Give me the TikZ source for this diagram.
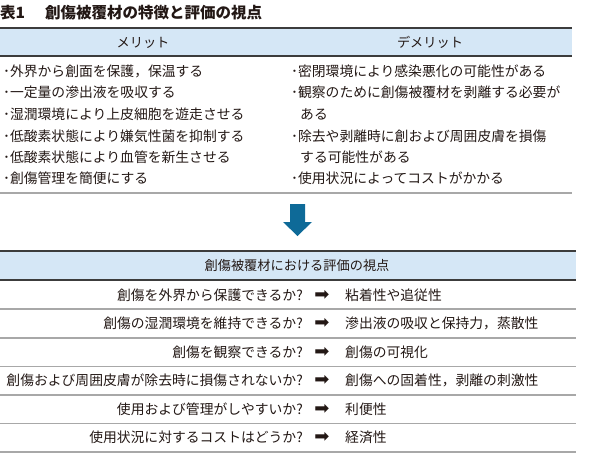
\documentclass[tikz,border=0pt]{standalone}
\usepackage{fontspec}
\newfontfamily\jp{Noto Sans CJK JP}
\newfontfamily\sym{DejaVu Sans}
\definecolor{bandblue}{HTML}{D5E7F6}
\definecolor{arrowblue}{HTML}{0E6A98}
\definecolor{linedark}{HTML}{3C3C3C}
\definecolor{linegray}{HTML}{A8A8A8}
\definecolor{txt}{HTML}{231815}
\tikzset{
  band/.style={fill=bandblue,draw=none},
  darkline/.style={draw=linedark,line width=1.6pt},
  grayline/.style={draw=linegray,line width=1.3pt},
  body/.style={inner sep=0pt,text=txt,font=\jp\fontsize{13.8}{16}\selectfont},
  item/.style={body,anchor=west},
  head/.style={inner sep=0pt,text=txt,font=\jp\fontsize{13.2}{16}\selectfont},
  titlestyle/.style={inner sep=0pt,anchor=west,text=txt,font=\jp\bfseries\fontsize{15.5}{18}\selectfont},
  arr/.style={inner sep=0pt,text=txt,font=\sym\fontsize{18}{20}\selectfont}
}
\begin{document}
\begin{tikzpicture}[x=1pt,y=-1pt]
\useasboundingbox (0,0) rectangle (594,458);
% title
\node[titlestyle] (t1) at (0,13) {表1};
\node[titlestyle] (t2) at (45,13) {創傷被覆材の特徴と評価の視点};
% table 1 header
\fill[band] (0,28) rectangle (572,56);
\draw[darkline] (0,28) -- (572,28);
\draw[darkline] (0,56) -- (572,56);
\node[head] (hm) at (143,42.5) {メリット};
\node[head] (hd) at (430,42.5) {デメリット};
% left items
\node[item] (l1) at (3,71) {･外界から創面を保護，保温する};
\node[item] (l2) at (3,92.5) {･一定量の滲出液を吸収する};
\node[item] (l3) at (3,114.5) {･湿潤環境により上皮細胞を遊走させる};
\node[item] (l4) at (3,136) {･低酸素状態により嫌気性菌を抑制する};
\node[item] (l5) at (3,157) {･低酸素状態により血管を新生させる};
\node[item] (l6) at (3,178.5) {･創傷管理を簡便にする};
% right items
\node[item] (r1) at (291,71) {･密閉環境により感染悪化の可能性がある};
\node[item] (r2) at (291,92.5) {･観察のために創傷被覆材を剥離する必要が};
\node[item] (r2b) at (300,114.5) {ある};
\node[item] (r3) at (291,136) {･除去や剥離時に創および周囲皮膚を損傷};
\node[item] (r3b) at (300,157) {する可能性がある};
\node[item] (r4) at (291,178.5) {･使用状況によってコストがかかる};
\draw[grayline] (0,193) -- (572,193);
% blue arrow
\fill[arrowblue] (290,204) -- (305,204) -- (305,222) -- (312,222) -- (297.5,236)
  -- (283,222) -- (290,222) -- cycle;
% table 2 header
\fill[band] (0,251) rectangle (576,280);
\draw[darkline] (0,251) -- (576,251);
\draw[darkline] (0,280) -- (576,280);
\node[head] (h2) at (297,266) {創傷被覆材における評価の視点};
% rows
\foreach \y in {309,338,366.5,395,423.5,452} {\draw[grayline] (0,\y) -- (576,\y);}
\node[body,anchor=east] (q1) at (303,295) {創傷を外界から保護できるか?};
\node[body,anchor=east] (q2) at (303,323.5) {創傷の湿潤環境を維持できるか?};
\node[body,anchor=east] (q3) at (303,352) {創傷を観察できるか?};
\node[body,anchor=east] (q4) at (303,380.5) {創傷および周囲皮膚が除去時に損傷されないか?};
\node[body,anchor=east] (q5) at (303,409) {使用および管理がしやすいか?};
\node[body,anchor=east] (q6) at (303,437.5) {使用状況に対するコストはどうか?};
\foreach \y/\n in {295/1,323.5/2,352/3,380.5/4,409/5,437.5/6} {\node[arr] (a\n) at (322,\y) {➡};}
\node[item] (p1) at (345,295) {粘着性や追従性};
\node[item] (p2) at (345,323.5) {滲出液の吸収と保持力，蒸散性};
\node[item] (p3) at (345,352) {創傷の可視化};
\node[item] (p4) at (345,380.5) {創傷への固着性，剥離の刺激性};
\node[item] (p5) at (345,409) {利便性};
\node[item] (p6) at (345,437.5) {経済性};
\end{tikzpicture}
\end{document}
